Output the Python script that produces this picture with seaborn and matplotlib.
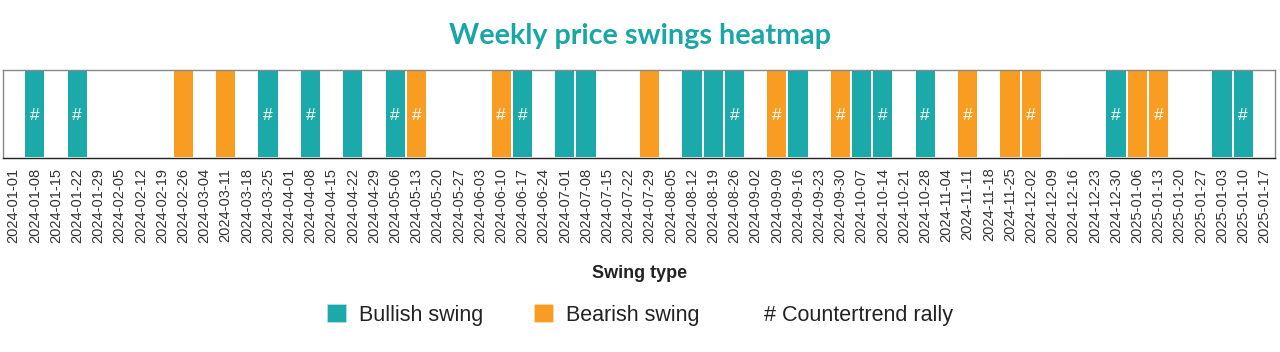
import numpy as np
import pandas as pd
import matplotlib
matplotlib.use("Agg")
import matplotlib.pyplot as plt
import seaborn as sns
from matplotlib.colors import ListedColormap
from matplotlib.patches import Patch
from matplotlib.legend_handler import HandlerBase
from matplotlib.text import Text

weeks = [
    "2024-01-01", "2024-01-08", "2024-01-15", "2024-01-22", "2024-01-29", "2024-02-05",
    "2024-02-12", "2024-02-19", "2024-02-26", "2024-03-04", "2024-03-11", "2024-03-18",
    "2024-03-25", "2024-04-01", "2024-04-08", "2024-04-15", "2024-04-22", "2024-04-29",
    "2024-05-06", "2024-05-13", "2024-05-20", "2024-05-27", "2024-06-03", "2024-06-10",
    "2024-06-17", "2024-06-24", "2024-07-01", "2024-07-08", "2024-07-15", "2024-07-22",
    "2024-07-29", "2024-08-05", "2024-08-12", "2024-08-19", "2024-08-26", "2024-09-02",
    "2024-09-09", "2024-09-16", "2024-09-23", "2024-09-30", "2024-10-07", "2024-10-14",
    "2024-10-21", "2024-10-28", "2024-11-04", "2024-11-11", "2024-11-18", "2024-11-25",
    "2024-12-02", "2024-12-09", "2024-12-16", "2024-12-23", "2024-12-30", "2025-01-06",
    "2025-01-13", "2025-01-20", "2025-01-27", "2025-01-03", "2025-01-10", "2025-01-17",
]
# 0 = no swing, 1 = bullish swing, 2 = bearish swing
swing = [
    0, 1, 0, 1, 0, 0, 0, 0, 2, 0, 2, 0,
    1, 0, 1, 0, 1, 0, 1, 2, 0, 0, 0, 2,
    1, 0, 1, 1, 0, 0, 2, 0, 1, 1, 1, 0,
    2, 1, 0, 2, 1, 1, 0, 1, 0, 2, 0, 2,
    2, 0, 0, 0, 1, 2, 2, 0, 0, 1, 1, 0,
]
# 1 = countertrend rally
countertrend = [
    0, 1, 0, 1, 0, 0, 0, 0, 0, 0, 0, 0,
    1, 0, 1, 0, 0, 0, 1, 1, 0, 0, 0, 1,
    1, 0, 0, 0, 0, 0, 0, 0, 0, 0, 1, 0,
    1, 0, 0, 1, 0, 1, 0, 1, 0, 1, 0, 0,
    1, 0, 0, 0, 1, 0, 1, 0, 0, 0, 1, 0,
]
legend_labels = ["Bullish swing", "Bearish swing", "Countertrend rally"]

TEAL = "#1ba9aa"
ORANGE = "#f89d21"

sns.set_theme(style="white")
plt.rcParams["font.family"] = ["Liberation Sans", "DejaVu Sans"]

data = pd.DataFrame([swing], columns=weeks)
annot = np.array([["#" if c else "" for c in countertrend]])

fig = plt.figure(figsize=(12.8, 3.52), dpi=100)
ax = fig.add_axes([3 / 1280, 1 - 158 / 352, 1272 / 1280, 88 / 352])
cmap = ListedColormap(["white", TEAL, ORANGE])
sns.heatmap(data, ax=ax, cmap=cmap, vmin=-0.5, vmax=2.5, cbar=False,
            linewidths=1.2, linecolor="white", annot=annot, fmt="",
            annot_kws={"color": "white", "fontsize": 12.5, "va": "center_baseline"})
ax.set_yticks([])
ax.set_ylabel("")
ax.set_xlabel("")
ax.set_xticks(np.arange(len(weeks)) + 0.5)
ax.set_xticklabels(weeks, rotation=90, fontsize=10.5, color="#333333")
ax.tick_params(axis="x", length=0, pad=7)
for name, sp in ax.spines.items():
    sp.set_visible(True)
    sp.set_linewidth(1)
    sp.set_color("#888888")
ax.spines["bottom"].set_color("#222222")

fig.text(0.5, 1 - 36 / 352, "Weekly price swings heatmap", ha="center", va="center",
         fontsize=20.7, fontweight="bold", color="#1aa6a6", family="Lato")
fig.text(0.5, 1 - 274 / 352, "Swing type", ha="center", va="center",
         fontsize=13, fontweight="bold", color="#222222")


class HashHandler(HandlerBase):
    def create_artists(self, legend, orig_handle, xdescent, ydescent, width, height,
                       fontsize, trans):
        t = Text(x=width - xdescent + 0.3 * fontsize, y=height / 2 - ydescent, text="#",
                 ha="right", va="center_baseline", fontsize=fontsize, color="#222222",
                 transform=trans, family="Liberation Sans")
        return [t]


h1 = Patch(facecolor=TEAL, edgecolor="#bfe6e6", lw=0.5)
h2 = Patch(facecolor=ORANGE, edgecolor="#fde0b8", lw=0.5)
h3 = Patch(facecolor="none", edgecolor="none")
fig.legend([h1, h2, h3], legend_labels, loc="center", bbox_to_anchor=(0.5, 1 - 315 / 352),
           ncol=3, frameon=False, fontsize=15.5, handlelength=0.9, handleheight=0.85,
           handletextpad=0.6, columnspacing=2.35, handler_map={h3: HashHandler()},
           labelcolor="#222222")

fig.savefig("out.png", dpi=100)
